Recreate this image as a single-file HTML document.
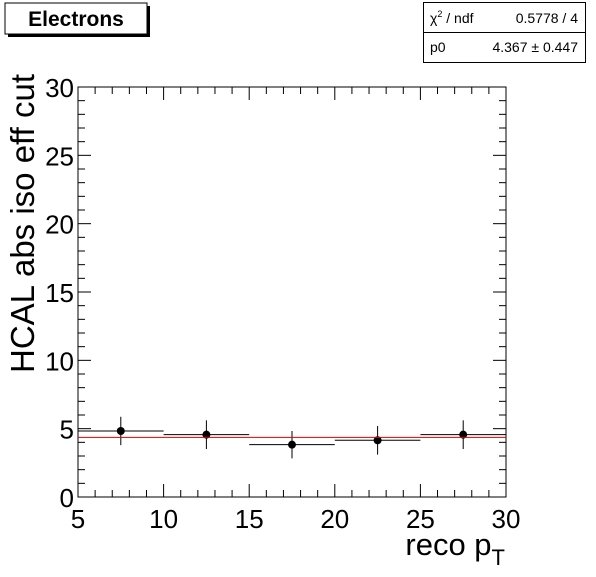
<!DOCTYPE html>
<html><head><meta charset="utf-8"><style>
body{margin:0;background:#fff;}
svg text{font-family:"Liberation Sans",Arial,sans-serif;}
</style></head><body>
<svg width="596" height="572" viewBox="0 0 596 572" xmlns="http://www.w3.org/2000/svg">
<rect x="0" y="0" width="596" height="572" fill="#fff"/>
<g>
<rect x="8" y="6" width="142" height="31" fill="#000"/>
<rect x="5" y="3" width="142" height="31" fill="#fff" stroke="#000" stroke-width="1"/>
<text x="76" y="26" font-size="21" font-weight="bold" text-anchor="middle">Electrons</text>
</g>
<g>
<rect x="423.5" y="2.5" width="162" height="60" fill="#fff" stroke="#000"/>
<line x1="423.5" y1="32.5" x2="585.5" y2="32.5" stroke="#000"/>
<text x="430" y="23" font-size="14">χ<tspan dy="-6" font-size="9">2</tspan><tspan dy="6"> / ndf</tspan></text>
<text x="578" y="23" font-size="14" text-anchor="end">0.5778 / 4</text>
<text x="430" y="52" font-size="14">p0</text>
<text x="578" y="52" font-size="14" text-anchor="end">4.367 ± 0.447</text>
</g>
<rect x="78" y="87" width="428" height="410" fill="none" stroke="#000"/>
<g id="axes"></g>
<g id="marks"></g>
<text x="505" y="555" font-size="31" text-anchor="end">reco p<tspan font-size="22" dy="10">T</tspan></text>
<text transform="translate(34,373) rotate(-90)" font-size="33" text-anchor="start">HCAL abs iso eff cut</text>
</svg>
<script>
const binLo=[5,10,15,20,25];
const binHi=[10,15,20,25,30];
const values=[4.83,4.56,3.83,4.15,4.56];
const errors=[1.04,1.05,1.0,1.05,1.05];
const fitP0=[4.367];
const xTicks=[5,10,15,20,25,30];
const yTicks=[0,5,10,15,20,25,30];
const X0=78,X1=506,Y0=497,Y1=87;
const sx=v=>X0+(v-5)/25*(X1-X0);
const sy=v=>Y0-(v/30)*(Y0-Y1);
const NS="http://www.w3.org/2000/svg";
function mk(tag,attrs,parent){const e=document.createElementNS(NS,tag);for(const k in attrs)e.setAttribute(k,attrs[k]);parent.appendChild(e);return e;}
const ax=document.getElementById('axes'),mg=document.getElementById('marks');
for(let v=5;v<=30;v+=1){const x=sx(v),L=(v%5===0)?13:7;
 let t=mk('line',{x1:x,y1:Y0,x2:x,y2:Y0-L,stroke:'#000'},ax);
 
 t=mk('line',{x1:x,y1:Y1,x2:x,y2:Y1+L,stroke:'#000'},ax);
 }
for(let v=0;v<=30;v+=1){const y=sy(v),L=(v%5===0)?13:7;
 let t=mk('line',{x1:X0,y1:y,x2:X0+L,y2:y,stroke:'#000'},ax);
 
 t=mk('line',{x1:X1,y1:y,x2:X1-L,y2:y,stroke:'#000'},ax);
 }
xTicks.forEach(v=>{const t=mk('text',{x:sx(v),y:Y0+31,'font-size':26,'text-anchor':'middle'},ax);t.textContent=v;
 });
yTicks.forEach(v=>{const t=mk('text',{x:X0-4,y:sy(v)+10,'font-size':26,'text-anchor':'end'},ax);t.textContent=v;
 });
values.forEach((v,i)=>{const xc=sx((binLo[i]+binHi[i])/2);
 let e=mk('line',{x1:sx(binLo[i]),y1:sy(v),x2:sx(binHi[i]),y2:sy(v),stroke:'#000'},mg);
 
 e=mk('line',{x1:xc,y1:sy(v+errors[i]),x2:xc,y2:sy(v-errors[i]),stroke:'#000'},mg);
 
 e=mk('circle',{cx:xc,cy:sy(v),r:4,fill:'#000'},mg);
 });
const f=mk('line',{x1:X0,y1:sy(fitP0[0]),x2:X1,y2:sy(fitP0[0]),stroke:'#e00000','stroke-width':1},mg);


</script>
</body></html>
